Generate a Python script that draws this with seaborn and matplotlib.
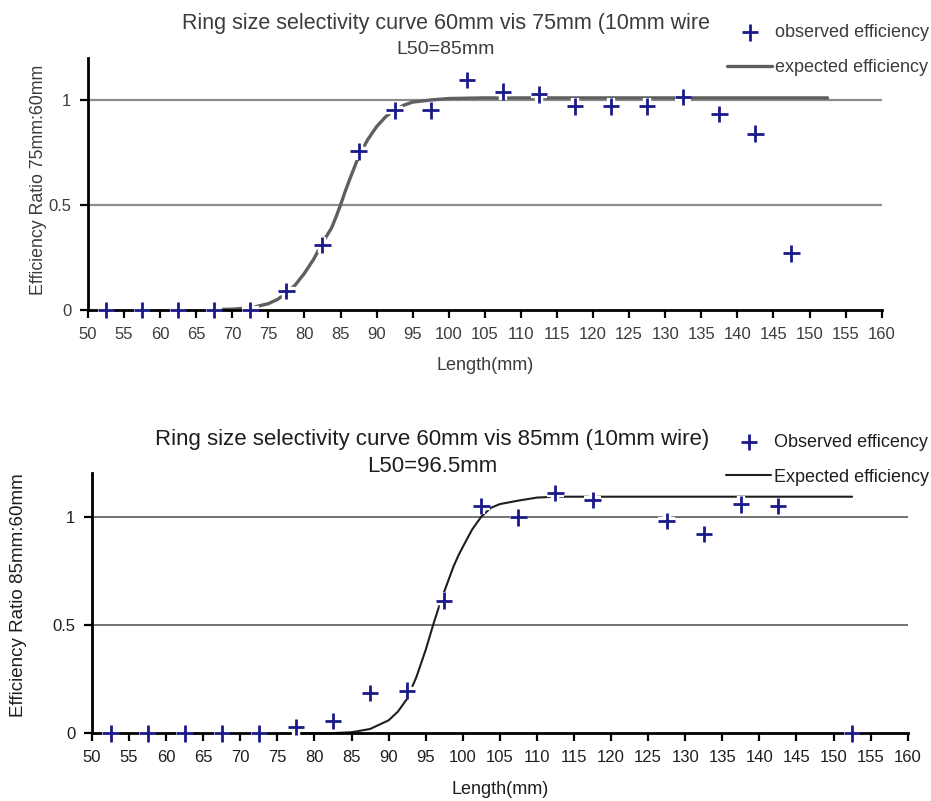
import numpy as np
import matplotlib
matplotlib.use("Agg")
import matplotlib.pyplot as plt
import matplotlib.patheffects as pe
import seaborn as sns

# observed efficiency, 60mm vs 75mm
len_75 = [52.5, 57.5, 62.5, 67.5, 72.5, 77.5, 82.5, 87.5, 92.5, 97.5,
          102.5, 107.5, 112.5, 117.5, 122.5, 127.5, 132.5, 137.5, 142.5, 147.5]
obs_75 = [0, 0, 0, 0, 0, 0.09, 0.31, 0.755, 0.95, 0.95,
          1.095, 1.04, 1.027, 0.97, 0.97, 0.97, 1.013, 0.933, 0.84, 0.27]

# expected curve, 60mm vs 75mm
curve_x_75 = [67.5, 70, 72.5, 75, 76.25, 77.5, 78.75, 80, 81.25, 82.5, 83.75, 84.4, 85,
              85.6, 86.25, 87.5, 88.75, 90, 91.25, 92.5, 93.75, 95, 97.5, 100, 105, 152.5]
curve_y_75 = [0.002, 0.004, 0.01, 0.03, 0.05, 0.08, 0.12, 0.175, 0.24, 0.32, 0.39, 0.445, 0.5,
              0.56, 0.62, 0.73, 0.81, 0.873, 0.92, 0.952, 0.975, 0.99, 1.0, 1.007, 1.01, 1.01]

# observed efficiency, 60mm vs 85mm
len_85 = [52.5, 57.5, 62.5, 67.5, 72.5, 77.5, 82.5, 87.5, 92.5, 97.5,
          102.5, 107.5, 112.5, 117.5, 127.5, 132.5, 137.5, 142.5, 152.5]
obs_85 = [0, 0, 0, 0, 0, 0.028, 0.058, 0.185, 0.197, 0.612,
          1.049, 0.997, 1.108, 1.077, 0.98, 0.92, 1.057, 1.049, 0]

# expected curve, 60mm vs 85mm
curve_x_85 = [78.5, 82, 85, 87.5, 90, 91.25, 92.5, 93.75, 95, 96, 96.75, 97.5, 98.75,
              99.4, 100, 101.25, 102.5, 103.75, 105, 107.5, 110, 112.5, 152.5]
curve_y_85 = [0, 0, 0.005, 0.02, 0.06, 0.1, 0.16, 0.26, 0.385, 0.5, 0.58, 0.654, 0.77,
              0.82, 0.86, 0.94, 1.0, 1.04, 1.058, 1.074, 1.088, 1.092, 1.092]

xticks = list(range(50, 161, 5))
yticks = [0, 0.5, 1]
ytick_labels = ["0", "0.5", "1"]

sns.set_style("ticks")
plt.rcParams["font.family"] = ["Liberation Sans", "DejaVu Sans"]

fig = plt.figure(figsize=(9.31, 8.01), dpi=100)
ax1 = fig.add_axes([0.0945, 0.613, 0.8525, 0.3146])
ax2 = fig.add_axes([0.0988, 0.0845, 0.8762, 0.3246])

halo = [pe.withStroke(linewidth=6, foreground="white")]
navy = "#1a1a8a"


def draw_panel(ax, lx, ly, cx, cy, line_color, line_w, grid_color, grid_w, text_color,
               title, subtitle, ylabel, obs_label, exp_label, tx, sizes, ylab):
    for g in (0.5, 1.0):
        ax.axhline(g, color=grid_color, linewidth=grid_w, zorder=1)
    sns.lineplot(x=cx, y=cy, ax=ax, color=line_color, linewidth=line_w,
                 label=exp_label, zorder=2, clip_on=False)
    sns.scatterplot(x=lx, y=ly, ax=ax, marker="+", s=140, color=navy, linewidth=2,
                    label=obs_label, zorder=4, clip_on=False, path_effects=halo)
    ax.set_xlim(50, 160)
    ax.set_ylim(0, 1.2)
    ax.set_xticks(xticks)
    ax.set_yticks(yticks)
    ax.set_yticklabels(ytick_labels)
    sns.despine(ax=ax)
    for s in ("left", "bottom"):
        ax.spines[s].set_linewidth(2)
        ax.spines[s].set_color("black")
    ax.tick_params(axis="both", direction="out", length=6, width=1.6, color="black",
                   labelsize=12, labelcolor=text_color, pad=6)
    ax.set_xlabel("Length(mm)", fontsize=13, color=text_color)
    ax.xaxis.set_label_coords(0.5, -0.185)
    ax.set_ylabel(ylabel, fontsize=ylab[2], color=text_color)
    ax.yaxis.set_label_coords(ylab[0], ylab[1])

    handles, labels = ax.get_legend_handles_labels()
    order = [labels.index(obs_label), labels.index(exp_label)]
    leg = ax.legend([handles[i] for i in order], [labels[i] for i in order],
                    loc="upper right", bbox_to_anchor=(0.998, tx[2]),
                    bbox_transform=fig.transFigure, frameon=False, fontsize=13,
                    handlelength=2.5, handletextpad=0.15, labelspacing=1.0,
                    borderaxespad=0, borderpad=0)
    for t in leg.get_texts():
        t.set_color(text_color)

    fig.text(tx[0], tx[1], title, ha="center", va="center", fontsize=sizes[0],
             color=text_color)
    fig.text(tx[0], tx[3], subtitle, ha="center", va="center", fontsize=sizes[1],
             color=text_color)


draw_panel(ax1, len_75, obs_75, curve_x_75, curve_y_75, "#5f5f5f", 2.4, "#8c8c8c", 1.6,
           "#3c3c3c", "Ring size selectivity curve 60mm vis 75mm (10mm wire", "L50=85mm",
           "Efficiency Ratio 75mm:60mm", "observed efficiency", "expected efficiency",
           (0.479, 1 - 24 / 801, 0.970, 1 - 50 / 801), (15.5, 14), (-0.052, 0.516, 12.8))
draw_panel(ax2, len_85, obs_85, curve_x_85, curve_y_85, "#1e1e1e", 1.5, "#4a4a4a", 1.1,
           "#1e1e1e", "Ring size selectivity curve 60mm vis 85mm (10mm wire)", "L50=96.5mm",
           "Efficiency Ratio 85mm:60mm", "Observed efficency", "Expected efficiency",
           (0.464, 1 - 440 / 801, 0.4585, 1 - 467 / 801), (16, 16), (-0.08, 0.53, 13.5))

fig.savefig("out.png", dpi=100)
